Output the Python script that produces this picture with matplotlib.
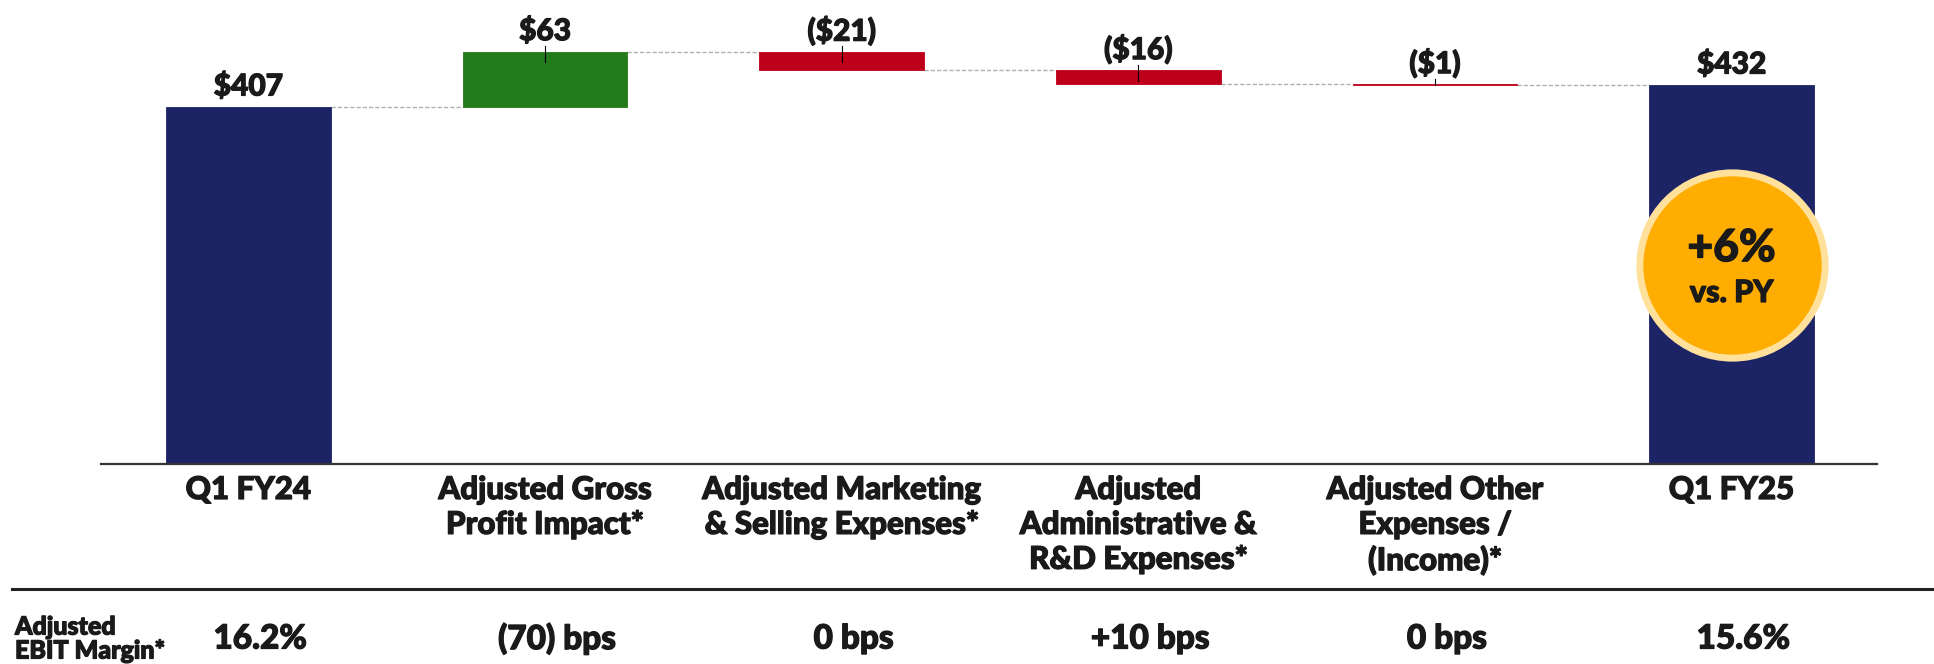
import numpy as np
import matplotlib.pyplot as plt
import matplotlib.transforms as mtransforms
import matplotlib.patheffects as pe
from matplotlib.lines import Line2D

# data
cats = ['Q1 FY24', 'Adjusted Gross\nProfit Impact*', 'Adjusted Marketing\n& Selling Expenses*',
        'Adjusted\nAdministrative &\nR&D Expenses*', 'Adjusted Other\nExpenses /\n(Income)*', 'Q1 FY25']
start_val = 407
deltas = [63, -21, -16, -1]
end_val = 432
value_labels = ['$407', '$63', '($21)', '($16)', '($1)', '$432']
margins = ['16.2%', '(70) bps', '0 bps', '+10 bps', '0 bps', '15.6%']
margin_title = 'Adjusted\nEBIT Margin*'

navy = '#1D2466'
green = '#237A19'
red = '#BE001A'
gold = '#FFAD00'
ring = '#FFE19B'
ink = '#1A1A1A'

plt.rcParams['font.family'] = ['Lato', 'DejaVu Sans']
heavy = [pe.withStroke(linewidth=0.9, foreground=ink)]

W, H = 1934, 664
fig = plt.figure(figsize=(W / 100, H / 100), dpi=100)
ax = fig.add_axes([101 / W, 1 - 464 / H, (1877 - 101) / W, 464 / H])

x = np.arange(len(cats))
levels = np.cumsum([start_val] + deltas)
bottoms = [0]
heights = [start_val]
colors = [navy]
for i, d in enumerate(deltas):
    lo = min(levels[i], levels[i + 1])
    bottoms.append(lo)
    heights.append(abs(d))
    colors.append(green if d > 0 else red)
bottoms.append(0)
heights.append(end_val)
colors.append(navy)
bottoms = np.array(bottoms)
heights = np.array(heights)
tops = bottoms + heights

bw = 0.555
ax.bar(x, heights, bottom=bottoms, width=bw, color=colors, edgecolor=colors, linewidth=0.6, zorder=2)

# connectors between bars
for i in range(len(x) - 1):
    lvl = levels[i] if i < len(levels) else end_val
    ax.plot([x[i] + bw / 2, x[i + 1] - bw / 2], [lvl, lvl], color='#AFAFAF', lw=1,
            dashes=(3, 1.5), zorder=1)

# small ticks on delta bars
for i in range(1, len(x) - 1):
    ax.plot([x[i], x[i]], [tops[i] + 6, tops[i] - min(heights[i], 12)], color='k', lw=0.8, zorder=3)

for i in range(len(x)):
    ax.text(x[i], tops[i] + 24, value_labels[i], ha='center', va='center',
            fontsize=21.5, fontweight='black', color=ink, path_effects=heavy)

# +6% badge
ax.scatter([x[-1]], [227], s=17800, color=gold, edgecolor=ring, linewidth=5, zorder=4)
ax.text(x[-1], 246, '+6%', ha='center', va='center', fontsize=32, fontweight='black',
        color=ink, zorder=5, path_effects=heavy)
ax.text(x[-1], 195, 'vs. PY', ha='center', va='center', fontsize=22, fontweight='black',
        color=ink, zorder=5, path_effects=heavy)

ax.set_xlim(-0.497, 5.49)
ax.set_ylim(0, 529)
for s in ['top', 'right', 'left']:
    ax.spines[s].set_visible(False)
ax.spines['bottom'].set_color('#333333')
ax.spines['bottom'].set_linewidth(1.6)
ax.set_xticks([])
ax.set_yticks([])

tr = mtransforms.blended_transform_factory(ax.transData, fig.transFigure)
for i, c in enumerate(cats):
    ax.text(x[i], 1 - 476 / H, c, transform=tr, ha='center', va='top', fontsize=22.5,
            fontweight='black', color=ink, linespacing=1.3, clip_on=False, path_effects=heavy)
    ax.text(x[i] + 0.04, 1 - 639 / H, margins[i], transform=tr, ha='center', va='center',
            fontsize=24, fontweight='black', color=ink, clip_on=False, path_effects=heavy)

fig.text(15 / W, 1 - 639 / H, margin_title, ha='left', va='center', fontsize=18,
         fontweight='black', color=ink, linespacing=1.05, path_effects=heavy)

fig.add_artist(Line2D([12 / W, 1], [1 - 589 / H, 1 - 589 / H], color='#222222', lw=2.2,
                      transform=fig.transFigure))

fig.savefig('out.png', dpi=100)
